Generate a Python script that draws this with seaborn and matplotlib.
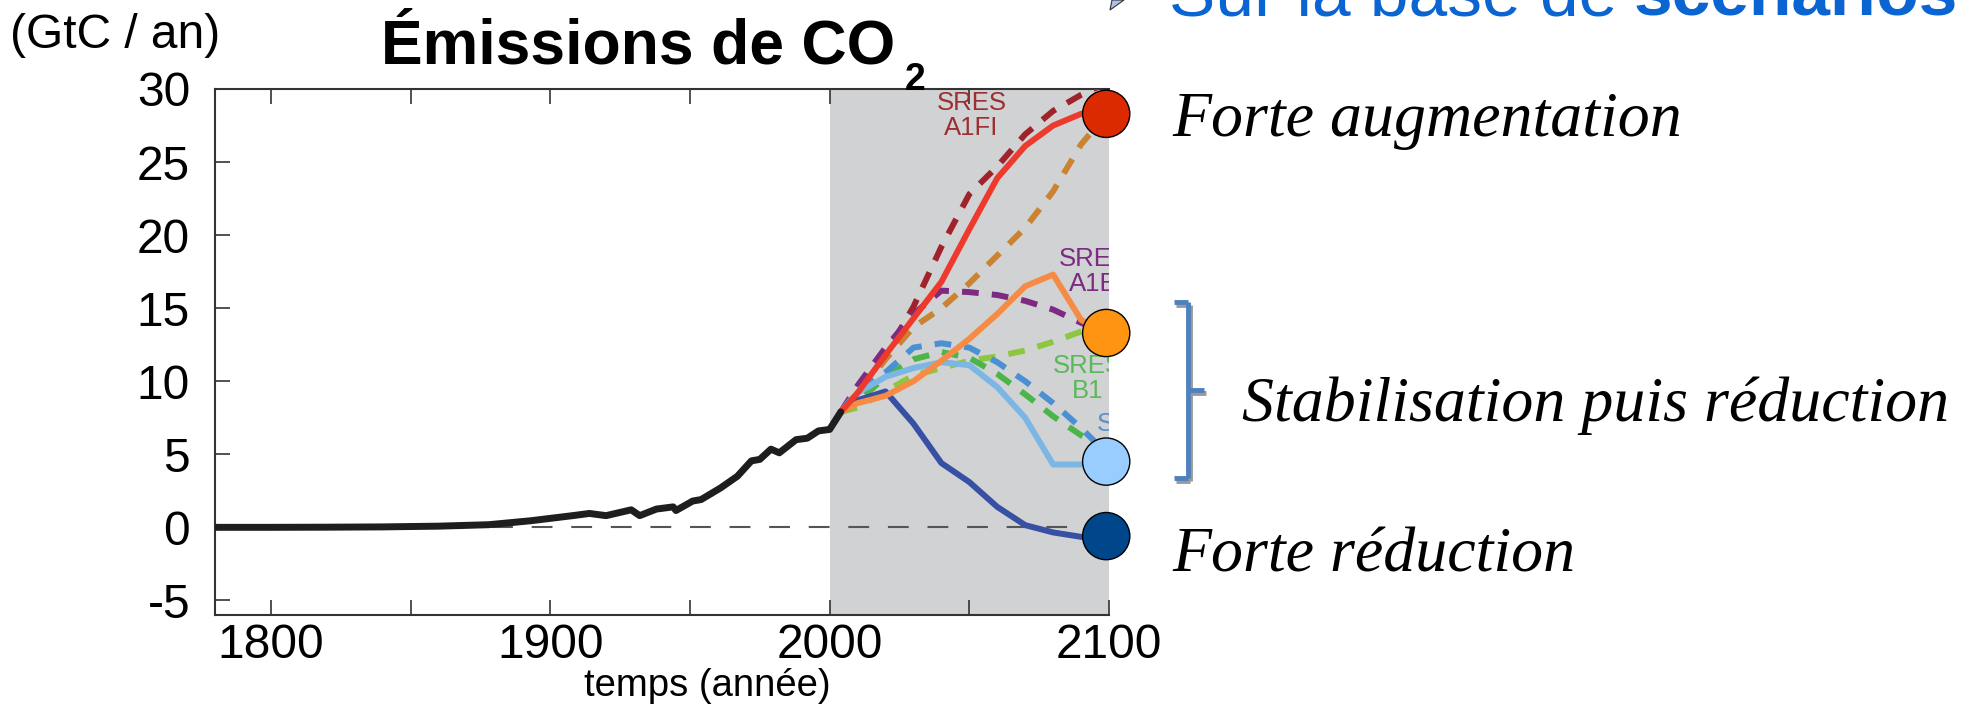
import matplotlib
matplotlib.use("Agg")
import matplotlib.pyplot as plt
import seaborn as sns
from matplotlib.lines import Line2D
from matplotlib.patches import Polygon

# historical CO2 emissions (GtC / an)
hist_years = [1780, 1800, 1820, 1840, 1860, 1878, 1893, 1908, 1914, 1920, 1929, 1932,
              1938, 1944, 1945, 1951, 1954, 1961, 1967, 1972, 1975, 1979, 1982, 1988,
              1992, 1996, 2000, 2004]
hist_vals = [0.0, 0.0, 0.01, 0.03, 0.08, 0.18, 0.45, 0.8, 0.95, 0.8, 1.2, 0.8,
             1.25, 1.4, 1.15, 1.8, 1.9, 2.7, 3.5, 4.55, 4.65, 5.35, 5.1, 6.0,
             6.1, 6.6, 6.7, 7.9]

# scenarios 2004 -> 2100
scen_years = [2004, 2010, 2020, 2030, 2040, 2050, 2060, 2070, 2080, 2090, 2100]
a1fi_dash = [7.9, 9.4, 11.8, 15.1, 19.2, 22.8, 24.7, 26.9, 28.5, 29.6, 30.5]
a2_dash = [7.9, 9.0, 11.5, 13.7, 15.0, 16.7, 18.6, 20.5, 23.0, 26.2, 28.5]
a1b_dash = [7.9, 9.7, 12.3, 14.6, 16.2, 16.1, 15.9, 15.5, 14.9, 14.0, 13.2]
b1_light_dash = [7.9, 8.2, 9.3, 10.4, 10.9, 11.4, 11.7, 12.1, 12.7, 13.4, 13.9]
b1_dash = [7.9, 8.6, 10.3, 11.5, 12.0, 11.6, 10.5, 9.1, 7.6, 6.3, 5.2]
b2_dash = [7.9, 9.4, 10.6, 12.3, 12.6, 12.3, 11.3, 10.0, 8.5, 6.8, 4.9]
light_blue = [7.9, 9.2, 10.3, 10.9, 11.3, 11.1, 9.6, 7.5, 4.3, 4.3, 4.3]
dark_blue = [7.9, 8.7, 9.3, 7.1, 4.4, 3.1, 1.4, 0.15, -0.35, -0.65, -0.9]
orange = [7.9, 8.5, 9.0, 10.0, 11.4, 12.9, 14.6, 16.5, 17.3, 14.2, 13.2]
red = [7.9, 9.2, 11.8, 14.3, 16.8, 20.4, 23.9, 26.1, 27.5, 28.3, 28.6]

# end-of-century markers
marker_year = 2099
marker_vals = [28.3, 13.3, 4.5, -0.6]
marker_names = ["forte", "stab_haut", "stab_bas", "reduction"]
marker_colors = ["#dc2a00", "#ff9412", "#99ccff", "#00468b"]

series = [
    (a2_dash, "#c98332", True),
    (a1fi_dash, "#a0232b", True),
    (a1b_dash, "#7d2a82", True),
    (b1_light_dash, "#8dc63f", True),
    (b1_dash, "#4cb54a", True),
    (b2_dash, "#4a90d2", True),
    (light_blue, "#7bb6e4", False),
    (dark_blue, "#3750a3", False),
    (orange, "#f68b45", False),
    (red, "#ee3a2c", False),
]

sns.set_style("ticks")
plt.rcParams["font.family"] = ["Liberation Sans", "DejaVu Sans"]
plt.rcParams["axes.unicode_minus"] = False
plt.rcParams["text.color"] = "black"
plt.rcParams["xtick.labelcolor"] = "black"
plt.rcParams["ytick.labelcolor"] = "black"

W, H = 1971, 705
fig = plt.figure(figsize=(W / 100, H / 100), dpi=100)
ax = fig.add_axes([215 / W, 1 - 615 / H, (1109 - 215) / W, (615 - 89) / H])

ax.axvspan(2000, 2100, color="#d1d2d4", lw=0, zorder=0)
ax.axhline(0, color="#555555", lw=1.5, dashes=(10, 9), zorder=1)

for vals, col, dashed in series:
    ls = (0, (2.8, 2.2)) if dashed else "-"
    sns.lineplot(x=scen_years, y=vals, ax=ax, color=col, lw=4.3, linestyle=ls, zorder=3)

sns.lineplot(x=hist_years, y=hist_vals, ax=ax, color="#1e1e1e", lw=5, zorder=4)

sns.scatterplot(x=[marker_year] * 4, y=marker_vals, hue=marker_names,
                palette=dict(zip(marker_names, marker_colors)), s=34 ** 2,
                edgecolor="black", linewidth=1, legend=False, ax=ax,
                clip_on=False, zorder=10)

# scenario labels (clipped by the axes like the original)
lab_kw = dict(fontsize=18.5, ha="center", va="center", linespacing=1.05, clip_on=True, zorder=5)
ax.text(2050.8, 28.2, "SRES\nA1FI", color="#9b2f31", **lab_kw)
ax.text(2094.5, 17.5, "SRES\nA1B", color="#7d2a82", **lab_kw)
ax.text(2092.5, 10.2, "SRES\nB1", color="#5bb85a", **lab_kw)
ax.text(2095.8, 7.1, "SRES", color="#5d8fc9", fontsize=18.5, ha="left", va="center", clip_on=True, zorder=5)

ax.set_xlim(1780, 2100)
ax.set_ylim(-6, 30)
ax.set_xticks([1800, 1900, 2000, 2100])
ax.set_xticks([1850, 1950, 2050], minor=True)
ax.set_yticks(range(-5, 31, 5))
ax.tick_params(axis="both", which="both", direction="in", length=11, width=1.2,
               color="#333333", top=True, right=False, labelsize=34.5)
ax.tick_params(axis="x", pad=6)
ax.tick_params(axis="y", pad=18)
ax.set_xlabel("")
ax.set_ylabel("")
for side in ["left", "bottom", "top"]:
    ax.spines[side].set_color("#333333")
    ax.spines[side].set_linewidth(1.5)
ax.spines["right"].set_visible(False)

# titles and axis texts
fig.text(381 / W, 1 - 64 / H, "Émissions de CO", fontsize=45, fontweight="bold", va="baseline")
fig.text(905 / W, 1 - 90 / H, "2", fontsize=27, fontweight="bold", va="baseline")
fig.text(10 / W, 1 - 48 / H, "(GtC / an)", fontsize=34.5, va="baseline")
fig.text(707 / W, 1 - 696 / H, "temps (année)", fontsize=27.5, ha="center", va="baseline")

# header cut at the top of the slide
fig.text(1169 / W, 1 - 15 / H, "Sur la base de ", fontsize=50, color="#0a64d2", va="baseline")
fig.text(1634 / W, 1 - 15 / H, "scénarios", fontsize=50, fontweight="bold", color="#0a64d2", va="baseline")
fig.add_artist(Polygon([(1112 / W, 1.0), (1124 / W, 1.0), (1110 / W, 1 - 10 / H)],
                       closed=True, transform=fig.transFigure,
                       facecolor="#a9c4e8", edgecolor="#333333", lw=0.8))

# right-hand annotations
serif = ["Liberation Serif", "DejaVu Serif"]
fig.text(1172 / W, 1 - 136 / H, "Forte augmentation", fontsize=46, style="italic", family=serif, va="baseline")
fig.text(1242 / W, 1 - 421 / H, "Stabilisation puis réduction", fontsize=46, style="italic", family=serif, va="baseline")
fig.text(1172 / W, 1 - 572 / H, "Forte réduction", fontsize=46, style="italic", family=serif, va="baseline")

# bracket
bx, btop, bbot, bmid = 1188, 302, 478, 390
for dx, dy, col in [(2, 3, "#9a9a9a"), (0, 0, "#4f81bd")]:
    pts = [((bx - 14 + dx, btop + dy), (bx + dx, btop + dy)),
           ((bx + dx, btop + dy), (bx + dx, bbot + dy)),
           ((bx - 14 + dx, bbot + dy), (bx + dx, bbot + dy)),
           ((bx + dx, bmid + dy), (bx + 16 + dx, bmid + dy))]
    for (x0, y0), (x1, y1) in pts:
        fig.add_artist(Line2D([x0 / W, x1 / W], [1 - y0 / H, 1 - y1 / H],
                              transform=fig.transFigure, color=col, lw=3.5,
                              solid_capstyle="butt"))

fig.savefig("out.png", dpi=100)
